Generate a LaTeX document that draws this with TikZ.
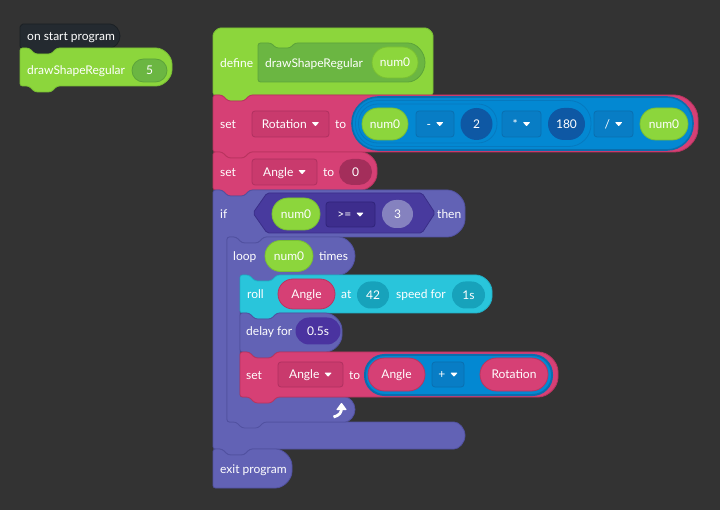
\documentclass[tikz,border=0pt]{standalone}
\usepackage{fontspec}
\setmainfont{Lato}
\usetikzlibrary{shapes.misc}

\definecolor{bg}{HTML}{333333}
\definecolor{hatc}{HTML}{242A30}
\definecolor{hatb}{HTML}{1B2024}
\definecolor{lime}{HTML}{8CD63C}
\definecolor{limeb}{HTML}{79BF33}
\definecolor{dgreen}{HTML}{6BB642}
\definecolor{dgreenb}{HTML}{5CA33A}
\definecolor{pinkc}{HTML}{D64075}
\definecolor{pinkb}{HTML}{B9345F}
\definecolor{pinkdd}{HTML}{C93A6D}
\definecolor{pinkddb}{HTML}{AF3160}
\definecolor{pinkdark}{HTML}{A42E5B}
\definecolor{bluec}{HTML}{0388D2}
\definecolor{blueb}{HTML}{0A6EAE}
\definecolor{bluering}{HTML}{0679BF}
\definecolor{bluedark}{HTML}{0E58A4}
\definecolor{bluedd}{HTML}{087DC5}
\definecolor{blueddb}{HTML}{0A6FB0}
\definecolor{purp}{HTML}{6262B5}
\definecolor{purpb}{HTML}{5151A0}
\definecolor{hexc}{HTML}{483A9E}
\definecolor{hexb}{HTML}{3A2E88}
\definecolor{hexdd}{HTML}{3D2D8D}
\definecolor{hexddb}{HTML}{30247A}
\definecolor{greyp}{HTML}{8582BF}
\definecolor{darkp}{HTML}{4A33A0}
\definecolor{cyanc}{HTML}{29C5DB}
\definecolor{cyanb}{HTML}{20AFC6}
\definecolor{cyandark}{HTML}{17A2BB}

\newcommand\blockfont{\fontsize{12pt}{14pt}\selectfont}

% small white drop-down triangle
\newcommand\dtri{\tikz[baseline=0pt]\fill[white,rounded corners=0.7pt] (0pt,6.2pt) -- (7.5pt,6.2pt) -- (3.75pt,2pt) -- cycle;}

% stack block: fill, border, x0, y0, x1, y1, right radius (with top notch and bottom tab)
\newcommand\blockbody[7]{%
  \filldraw[fill=#1,draw=#2,line width=0.8pt,rounded corners=2.5pt]
    (#3,#4) -- ({#3+9},#4) -- ({#3+15},{#4+6}) -- ({#3+31},{#4+6}) -- ({#3+37},#4)
    -- ({#5-#7},#4) arc[start angle=90,end angle=0,radius=#7pt]
    -- (#5,{#6-#7}) arc[start angle=0,end angle=-90,radius=#7pt]
    -- ({#3+37},#6) -- ({#3+31},{#6+6}) -- ({#3+15},{#6+6}) -- ({#3+9},#6) -- (#3,#6) -- cycle;}
% same, closing block without a bottom tab
\newcommand\blockend[7]{%
  \filldraw[fill=#1,draw=#2,line width=0.8pt,rounded corners=2.5pt]
    (#3,#4) -- ({#3+9},#4) -- ({#3+15},{#4+6}) -- ({#3+31},{#4+6}) -- ({#3+37},#4)
    -- ({#5-#7},#4) arc[start angle=90,end angle=0,radius=#7pt]
    -- (#5,{#6-#7}) arc[start angle=0,end angle=-90,radius=#7pt]
    -- (#3,#6) -- cycle;}

\tikzset{
  lbl/.style={text=white, font=\blockfont, inner sep=0pt, anchor=west, text height=8.6pt, text depth=0pt},
  pill/.style={rounded rectangle, inner sep=0pt, text=white, font=\blockfont, text height=8.6pt, text depth=0pt, line width=0.8pt},
  ddbox/.style={rectangle, rounded corners=3pt, inner sep=0pt, text=white, font=\blockfont, text height=8.6pt, text depth=0pt, line width=0.8pt},
  outline/.style={line width=0.8pt}
}

\begin{document}
\begin{tikzpicture}[x=1pt,y=-1pt]
\useasboundingbox (0,0) rectangle (720,510);
\fill[bg] (0,0) rectangle (720,510);

% ---------- on start program ----------
\filldraw[fill=hatc,draw=hatb,line width=0.8pt,rounded corners=2pt]
  (20,48) -- (20,29) arc[start angle=180,end angle=90,radius=5pt]
  -- (108,24) arc[start angle=90,end angle=-90,radius=12pt]
  -- (57,48) -- (51,54) -- (35,54) -- (29,48) -- cycle;
\node[lbl] (hatlbl) at (27,36) {on start program};

\blockbody{lime}{limeb}{20}{48}{172}{86}{18.5}
\node[lbl] (calllbl) at (27,70) {drawShapeRegular};
\node[pill,fill=dgreen,draw=dgreenb,minimum width=35pt,minimum height=23pt] (arg5) at (149.5,70.5) {5};

% ---------- define ----------
\filldraw[fill=lime,draw=limeb,line width=0.8pt,rounded corners=2.5pt]
  (213,95) -- (213,38) arc[start angle=180,end angle=90,radius=10pt]
  -- (423,28) arc[start angle=90,end angle=0,radius=10pt]
  -- (433,95) -- (250,95) -- (244,101) -- (228,101) -- (222,95) -- cycle;
\filldraw[fill=dgreen,draw=dgreenb,line width=0.8pt,rounded corners=2.5pt]
  (258,43) -- (271,43) -- (276,48) -- (290,48) -- (295,43)
  -- (405.5,43) arc[start angle=90,end angle=-90,radius=19.5pt]
  -- (258,82) -- cycle;
\node[lbl] (deflbl) at (220,63) {define};
\node[lbl] (defname) at (265,63) {drawShapeRegular};
\node[pill,fill=lime,draw=limeb,minimum width=46pt,minimum height=31pt] (defarg) at (395,62.5) {num0};

% ---------- set Rotation ----------
\blockbody{pinkc}{pinkb}{213}{95}{698}{152}{26}
\node[lbl] (set1) at (220,124) {set};
\node[ddbox,fill=pinkdd,draw=pinkddb,minimum width=77pt,minimum height=26pt] (rotvar) at (290.5,124) {Rotation\hspace{5pt}\dtri};
\node[lbl] (to1) at (335,124) {to};
% nested arithmetic reporters
\filldraw[fill=bluec,draw=blueb,line width=1.6pt,rounded corners=26pt] (352,97) rectangle (693,150);
\draw[bluering,outline,rounded corners=22pt] (355.5,100.5) rectangle (591,146.5);
\draw[bluering,outline,rounded corners=19pt] (358.5,104) rectangle (497,143);
\node[pill,fill=lime,draw=limeb,minimum width=46pt,minimum height=32pt] (n1) at (385,124) {num0};
\node[ddbox,fill=bluedd,draw=blueddb,minimum width=38pt,minimum height=26pt] (opminus) at (435,124) {-\hspace{5pt}\dtri};
\node[pill,fill=bluedark,minimum width=31pt,minimum height=32pt] (v2) at (476.5,124) {2};
\node[ddbox,fill=bluedd,draw=blueddb,minimum width=39pt,minimum height=26pt] (optimes) at (521.5,124) {*\hspace{5pt}\dtri};
\node[pill,fill=bluedark,minimum width=37pt,minimum height=32pt] (v180) at (566.5,124) {180};
\node[ddbox,fill=bluedd,draw=blueddb,minimum width=39pt,minimum height=26pt] (opdiv) at (613.5,124) {/\hspace{5pt}\dtri};
\node[pill,fill=lime,draw=limeb,minimum width=48pt,minimum height=32pt] (n2) at (664,124) {num0};

% ---------- set Angle to 0 ----------
\blockbody{pinkc}{pinkb}{213}{152}{377}{190}{18.5}
\node[lbl] (set2) at (220,172) {set};
\node[ddbox,fill=pinkdd,draw=pinkddb,minimum width=65pt,minimum height=26pt] (angvar1) at (284.5,172) {Angle\hspace{5pt}\dtri};
\node[lbl] (to2) at (323,172) {to};
\node[pill,fill=pinkdark,minimum width=33pt,minimum height=26pt] (v0) at (355.5,172) {0};

% ---------- if ... then ----------
\filldraw[fill=purp,draw=purpb,line width=0.8pt,rounded corners=2.5pt]
  (213,190) -- (222,190) -- (228,196) -- (244,196) -- (250,190)
  -- (445,190) arc[start angle=90,end angle=0,radius=20pt]
  -- (465,217) arc[start angle=0,end angle=-90,radius=20pt]
  -- (264,237) -- (258,243) -- (242,243) -- (236,237) -- (227,237)
  -- (227,422) -- (451.5,422) arc[start angle=90,end angle=-90,radius=13.5pt]
  -- (250,449) -- (244,455) -- (228,455) -- (222,449) -- (213,449) -- cycle;
\node[lbl] (iflbl) at (220,214) {if};
\filldraw[fill=hexc,draw=hexb,line width=0.8pt,rounded corners=2pt]
  (253,213) -- (267,193) -- (422,193) -- (435,213) -- (422,233) -- (267,233) -- cycle;
\node[pill,fill=lime,draw=limeb,minimum width=48pt,minimum height=32pt] (n3) at (296,214) {num0};
\node[ddbox,fill=hexdd,draw=hexddb,minimum width=49pt,minimum height=25pt] (opge) at (350.5,214.5) {>=\hspace{5pt}\dtri};
\node[pill,fill=greyp,minimum width=31pt,minimum height=28pt] (v3) at (397.5,214) {3};
\node[lbl] (thenlbl) at (437,214) {then};

% ---------- loop ... times ----------
\filldraw[fill=purp,draw=purpb,line width=0.8pt,rounded corners=2.5pt]
  (227,237) -- (236,237) -- (242,243) -- (258,243) -- (264,237)
  -- (336,237) arc[start angle=90,end angle=-90,radius=19pt]
  -- (277,275) -- (271,281) -- (255,281) -- (249,275) -- (240,275)
  -- (240,397) -- (342.5,397) arc[start angle=90,end angle=-90,radius=12.5pt]
  -- (264,422) -- (258,428) -- (242,428) -- (236,422) -- (227,422) -- cycle;
\node[lbl] (looplbl) at (233,256) {loop};
\node[pill,fill=lime,draw=limeb,minimum width=48pt,minimum height=31pt] (n4) at (289,256) {num0};
\node[lbl] (timeslbl) at (319,256) {times};
% repeat arrow
\draw[white,line width=2.8pt] (333.5,417) .. controls (339.5,415.5) and (341.5,412.5) .. (341.5,408);
\fill[white,rounded corners=0.8pt] (336,410) -- (341.5,402.5) -- (347,410) -- cycle;

% ---------- roll ----------
\blockbody{cyanc}{cyanb}{240}{275}{492}{313}{18.5}
\node[lbl] (rolllbl) at (247,294) {roll};
\node[pill,fill=pinkc,draw=pinkb,minimum width=57pt,minimum height=30pt] (ang1) at (306.5,294) {Angle};
\node[lbl] (atlbl) at (341,294) {at};
\node[pill,fill=cyandark,minimum width=32pt,minimum height=27pt] (v42) at (373,295) {42};
\node[lbl] (speedlbl) at (396,294) {speed for};
\node[pill,fill=cyandark,minimum width=33pt,minimum height=27pt] (v1s) at (468.5,295) {1s};

% ---------- delay ----------
\blockbody{purp}{purpb}{240}{313}{342}{352}{19}
\node[lbl] (delaylbl) at (246,331) {delay for};
\node[pill,fill=darkp,minimum width=45pt,minimum height=27pt] (v05) at (318,331) {0.5s};

% ---------- set Angle to Angle + Rotation ----------
\blockbody{pinkc}{pinkb}{240}{352}{558}{397}{22}
\node[lbl] (set3) at (246,375) {set};
\node[ddbox,fill=pinkdd,draw=pinkddb,minimum width=65pt,minimum height=25pt] (angvar2) at (310.5,374.5) {Angle\hspace{5pt}\dtri};
\node[lbl] (to3) at (349,375) {to};
\filldraw[fill=bluec,draw=blueb,line width=2pt,rounded corners=19.5pt] (365,355) rectangle (552,395);
\node[pill,fill=pinkc,draw=pinkb,minimum width=57pt,minimum height=33pt] (ang2) at (396.5,374.5) {Angle};
\node[ddbox,fill=bluedd,draw=blueddb,minimum width=32pt,minimum height=25pt] (opplus) at (448,374.5) {+\hspace{5pt}\dtri};
\node[pill,fill=pinkc,draw=pinkb,minimum width=68pt,minimum height=33pt] (rot2) at (514,374.5) {Rotation};

% ---------- exit program ----------
\blockend{purp}{purpb}{213}{449}{292}{488}{19}
\node[lbl] (exitlbl) at (220,469) {exit program};
\end{tikzpicture}
\end{document}
